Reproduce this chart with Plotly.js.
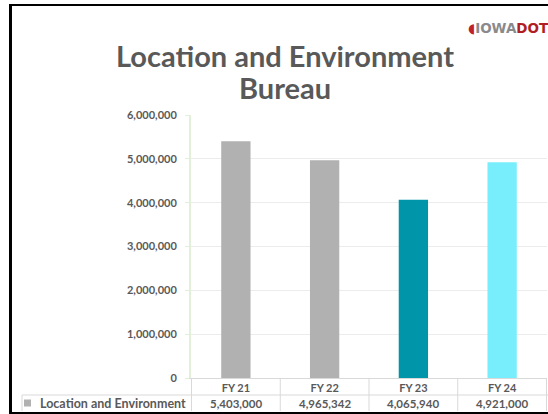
<!DOCTYPE html>
<html><head><meta charset="utf-8">
<script src="https://cdn.plot.ly/plotly-3.0.1.min.js"></script>
<style>
html,body{margin:0;padding:0;background:#fff;}
#wrap{position:relative;width:548px;height:414px;overflow:hidden;}
#chart{position:absolute;left:0;top:0;width:548px;height:414px;}
#frame{position:absolute;left:9px;top:4px;width:560px;height:406px;border-left:3px solid #000;border-top:2px solid #000;border-bottom:3px solid #000;pointer-events:none;}
</style></head>
<body><div id="wrap"><div id="chart"></div><div id="frame"></div></div>
<script>
const categories = ['FY 21', 'FY 22', 'FY 23', 'FY 24'];
const values = [5403000, 4965342, 4065940, 4921000];
const valueLabels = ['5,403,000', '4,965,342', '4,065,940', '4,921,000'];
const seriesName = 'Location and Environment';
const titleLines = ['Location and Environment', 'Bureau'];
const barColors = ['#b0b1b0', '#b0b1b0', '#0095a8', '#78eefd'];
const yTicks = [0, 1000000, 2000000, 3000000, 4000000, 5000000, 6000000];

const W = 548, H = 414;
const L = 191, R = 1, T = 115, B = 36;
const pw = W - L - R, ph = H - T - B;
const px = v => (v - L) / pw;       // pixel -> paper x
const py = v => (H - B - v) / ph;   // pixel -> paper y

const txt = '#595959';
const font = 'Lato, "Open Sans", sans-serif';

const trace = {
  type: 'bar', x: categories, y: values, name: seriesName,
  marker: {color: barColors}, hoverinfo: 'none'
};

const shapes = [];
const lineC = '#d9d9d9';
shapes.push({type:'line', xref:'paper', yref:'paper', x0:px(22), x1:px(560), y0:py(395), y1:py(395), line:{color:lineC, width:1}});
for (let i = 0; i <= categories.length; i++) {
  shapes.push({type:'line', xref:'x', yref:'paper', x0:i-0.5, x1:i-0.5, y0:py(378), y1:py(411), line:{color:lineC, width:1}});
}
shapes.push({type:'line', xref:'paper', yref:'paper', x0:px(22), x1:px(22), y0:py(395), y1:py(411), line:{color:lineC, width:1}});
shapes.push({type:'rect', xref:'paper', yref:'paper', x0:px(24), x1:px(31), y0:py(399.5), y1:py(406.5), fillcolor:'#b0b1b0', line:{width:0}});

const annotations = [];
categories.forEach((c, i) => {
  annotations.push({x:c, xref:'x', y:py(403), yref:'paper', text:valueLabels[i], showarrow:false, font:{family:font, size:11.5, color:txt, weight:'bold'}, xanchor:'center', yanchor:'middle'});
});
annotations.push({x:px(38), xref:'paper', y:py(403), yref:'paper', text:seriesName, showarrow:false, font:{family:font, size:12.5, color:txt, weight:'bold'}, xanchor:'left', yanchor:'middle'});
// second title line
annotations.push({x:px(285), xref:'paper', y:py(88), yref:'paper', text:titleLines[1], showarrow:false, font:{family:font, size:29, color:txt, weight:'bold'}, xanchor:'center', yanchor:'middle'});
// logo
annotations.push({x:px(551), xref:'paper', y:py(28), yref:'paper', showarrow:false, xanchor:'right', yanchor:'middle',
  text:'<span style="color:#c0202a">◖</span><span style="color:#8a8a8a">IOWA</span><span style="color:#b01e24">DOT</span>', font:{family:'"DejaVu Sans", sans-serif', size:13.5, weight:'bold'}});

const layout = {
  width: W, height: H,
  margin: {l:L, r:R, t:T, b:B, pad:0},
  paper_bgcolor: 'rgba(0,0,0,0)', plot_bgcolor: 'rgba(0,0,0,0)',
  showlegend: false,
  bargap: 0.67,
  title: {text:titleLines[0], xref:'container', yref:'container', x:285/W, xanchor:'center', y:1-57/H, yanchor:'middle', font:{family:font, size:29, color:txt, weight:'bold'}},
  xaxis: {type:'category', showgrid:false, zeroline:false, showline:true, linecolor:lineC, linewidth:1,
          ticks:'', tickfont:{family:font, size:11, color:txt, weight:'bold'}, fixedrange:true},
  yaxis: {range:[0, 6000000], tickvals:yTicks, tickformat:',', showgrid:true, gridcolor:'#ececec', gridwidth:1,
          zeroline:false, showline:true, linecolor:'#e2efd9', linewidth:2, ticks:'outside', ticklen:4, tickcolor:'#e2efd9',
          tickfont:{family:font, size:11, color:txt, weight:'bold'}, ticklabelstandoff:6, fixedrange:true},
  shapes: shapes, annotations: annotations
};

Plotly.newPlot('chart', [trace], layout, {staticPlot:true, displayModeBar:false});
</script></body></html>
